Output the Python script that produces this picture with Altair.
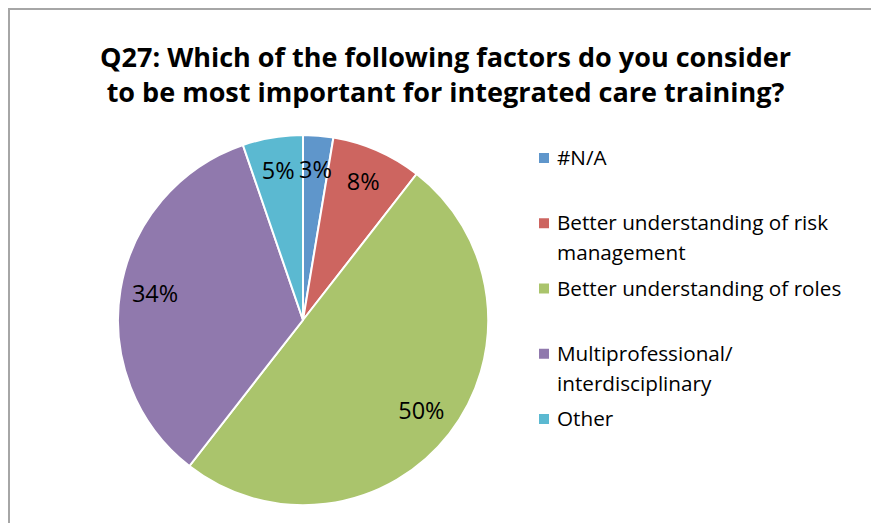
import altair as alt
import pandas as pd

# ---- data (slice shares match 1,3,19,13,2 of 38) ----
categories = [
    "#N/A",
    "Better understanding of risk management",
    "Better understanding of roles",
    "Multiprofessional/ interdisciplinary",
    "Other",
]
values = [1, 3, 19, 13, 2]
legend_labels = [
    "#N/A",
    "Better understanding of risk\nmanagement",
    "Better understanding of roles",
    "Multiprofessional/\ninterdisciplinary",
    "Other",
]
colors = ["#5f96cb", "#cd6560", "#aac46c", "#9079ad", "#5bb9d1"]
title_lines = [
    "Q27: Which of the following factors do you consider",
    "to be most important for integrated care training?",
]

df = pd.DataFrame({
    "category": categories,
    "value": values,
    "label": legend_labels,
    "order": list(range(len(categories))),
})

W, H = 863, 515
CX, CY = 295, 312
FONT = "Open Sans"

color = alt.Color("category:N", scale=alt.Scale(domain=categories, range=colors), legend=None)
legend_y = alt.Y("category:N", scale=alt.Scale(domain=categories, range=[150, 411], padding=0), axis=None)

base = alt.Chart(df)

pie = base.mark_arc(outerRadius=185, stroke="white", strokeWidth=2).encode(
    theta=alt.Theta("value:Q", stack=True),
    color=color,
    order=alt.Order("order:Q"),
    x=alt.value(CX),
    y=alt.value(CY),
)

pct = base.transform_joinaggregate(total="sum(value)").transform_calculate(
    pct="datum.value / datum.total"
).mark_text(radius=150, fontSize=23.5, font=FONT, color="black").encode(
    theta=alt.Theta("value:Q", stack=True),
    order=alt.Order("order:Q"),
    text=alt.Text("pct:Q", format=".0%"),
    x=alt.value(CX),
    y=alt.value(CY),
)

sym = base.mark_square(size=100, opacity=1).encode(
    x=alt.value(536),
    y=legend_y,
    color=color,
)

txt = base.mark_text(
    align="left", baseline="alphabetic", dy=7, fontSize=20.7, font=FONT,
    lineBreak="\n", lineHeight=30, color="black",
).encode(
    x=alt.value(549),
    y=legend_y,
    text="label:N",
)

frame_df = pd.DataFrame({"k": [0]})
top_rule = alt.Chart(frame_df).mark_rule(color="#a6a6a6", strokeWidth=2).encode(
    x=alt.value(0), x2=alt.value(W), y=alt.value(1)
)
left_rule = alt.Chart(frame_df).mark_rule(color="#a6a6a6", strokeWidth=2).encode(
    x=alt.value(1), y=alt.value(0), y2=alt.value(H)
)

chart = alt.layer(top_rule, left_rule, pie, pct, sym, txt).properties(
    width=W,
    height=H,
    autosize=alt.AutoSizeParams(type="none"),
    padding=0,
    title=alt.TitleParams(
        title_lines, anchor="middle", frame="group", offset=-122, dx=6,
        baseline="alphabetic", fontSize=27, font=FONT, fontWeight="bold",
        lineHeight=35, color="black",
    ),
).configure_view(stroke=None)

chart.save("out.html", embed_options={"renderer": "svg", "actions": False})
